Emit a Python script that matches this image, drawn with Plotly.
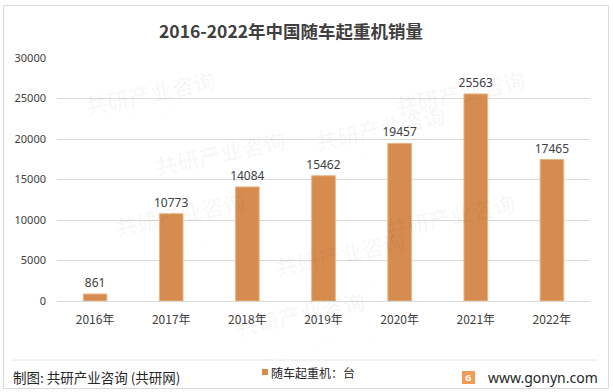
import plotly.graph_objects as go

years = ["2016年", "2017年", "2018年", "2019年", "2020年", "2021年", "2022年"]
sales = [861, 10773, 14084, 15462, 19457, 25563, 17465]
y_ticks = [0, 5000, 10000, 15000, 20000, 25000, 30000]
y_tick_labels = ["0", "5000", "10000", "15000", "20000", "25000", "30000"]
legend_label = "随车起重机：台"

W, H = 613, 392
L, R, T, B = 57, 590, 58, 301
pw, ph = R - L, B - T

def px(x):
    return (x - L) / pw

def py(y):
    return (B - y) / ph

fig = go.Figure()
fig.add_trace(go.Bar(
    x=years, y=sales, name=legend_label,
    marker=dict(color="#D68C4F", line=dict(color="#E9B585", width=1)),
    text=[str(v) for v in sales], textposition="outside",
    textfont=dict(size=12, color="#404040", family="Noto Sans"),
    constraintext="none",
    cliponaxis=False,
    showlegend=False,
))

shapes = [
    dict(type="rect", xref="paper", yref="paper", x0=px(3.5), x1=px(608.5), y0=py(388.5), y1=py(5.5),
         line=dict(color="#D9D9D9", width=1), layer="below"),
    dict(type="line", xref="paper", yref="paper", x0=px(12), x1=px(598), y0=py(360), y1=py(360),
         line=dict(color="#E6E6E6", width=1)),
    dict(type="rect", xref="paper", yref="paper", x0=px(462), x1=px(475), y0=py(384), y1=py(371),
         line=dict(width=0), fillcolor="#F39A55"),
    dict(type="rect", xref="paper", yref="paper", x0=px(262), x1=px(268), y0=py(375), y1=py(369),
         line=dict(width=0), fillcolor="#D68C4F"),
]

annotations = [
    dict(text="<b>2016-2022年中国随车起重机销量</b>", xref="paper", yref="paper", x=px(291), y=py(30),
         showarrow=False, font=dict(size=17.5, color="#404040", family="Noto Sans CJK SC"),
         xanchor="center", yanchor="middle"),
    dict(text="制图: 共研产业咨询 (共研网)", xref="paper", yref="paper", x=px(11), y=py(377),
         showarrow=False, font=dict(size=13.5, color="#262626", family="Noto Sans CJK SC"),
         xanchor="left", yanchor="middle"),
    dict(text=legend_label, xref="paper", yref="paper", x=px(269), y=py(372),
         showarrow=False, font=dict(size=12, color="#262626", family="Noto Sans CJK SC"),
         xanchor="left", yanchor="middle"),
    dict(text="www.gonyn.com", xref="paper", yref="paper", x=px(600), y=py(377),
         showarrow=False, font=dict(size=14, color="#262626", family="Noto Sans"),
         xanchor="right", yanchor="middle"),
    dict(text="<b>G</b>", xref="paper", yref="paper", x=px(468.5), y=py(377.5),
         showarrow=False, font=dict(size=9, color="white", family="Noto Sans"),
         xanchor="center", yanchor="middle"),
]

# faint watermarks
wm = [(150, 120), (380, 95), (530, 60), (110, 245), (340, 285), (520, 215), (80, 60), (300, 345)]
for x, y in wm:
    annotations.append(dict(text="<b>共研产业咨询</b>", xref="paper", yref="paper", x=px(x), y=py(y),
                            showarrow=False, textangle=-12,
                            font=dict(size=22, color="rgba(0,0,0,0.03)", family="Noto Sans CJK SC")))
    annotations.append(dict(text="w w w . g o n y n . c o m", xref="paper", yref="paper", x=px(x + 30), y=py(y + 22),
                            showarrow=False, textangle=-12,
                            font=dict(size=12, color="rgba(0,0,0,0.03)", family="Noto Sans")))

fig.update_layout(
    width=W, height=H,
    margin=dict(l=L, r=W - R, t=T, b=H - B),
    paper_bgcolor="white", plot_bgcolor="white",
    bargap=0.69,
    showlegend=False,
    xaxis=dict(type="category", showgrid=False, showline=True, linecolor="#D9D9D9", linewidth=1,
               ticks="", ticklabelstandoff=8,
               tickfont=dict(size=12, color="#404040", family="Noto Sans CJK SC")),
    yaxis=dict(range=[0, 30000], tickvals=y_ticks, ticktext=y_tick_labels, showgrid=True,
               gridcolor="#D9D9D9", gridwidth=1,
               zeroline=False, showline=False, ticks="", ticklen=0,
               tickfont=dict(size=11, color="#404040", family="Noto Sans"), ticklabelstandoff=10),
    shapes=shapes,
    annotations=annotations,
)

fig.write_html("out.html", config={"displayModeBar": False},
               post_script="document.body.style.margin='0';document.body.style.overflow='hidden';")
